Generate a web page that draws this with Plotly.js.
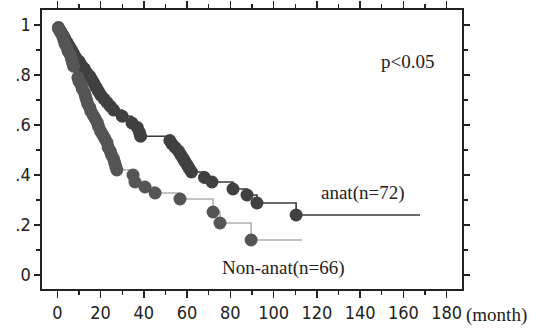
<!DOCTYPE html>
<html>
<head>
<meta charset="utf-8">
<script src="https://cdn.plot.ly/plotly-3.0.1.min.js"></script>
<style>html,body{margin:0;padding:0;background:#fff;}#chart{width:536px;height:328px;}</style>
</head>
<body>
<div id="chart"></div>
<script>
// Kaplan-Meier curves (months, cumulative survival)
const anatMonths = [0.5,1.5,2.5,3.5,4.5,5.5,6.5,7.5,8.5,10,11,12.5,13.5,15,16,17,18,19,20,21.5,23,24.5,26,30,34.5,37,38,38.5,52,53,54.5,56,57,58,59,60,61,62,68,71.5,81.2,87.7,92.3,110.4];
const anatSurv   = [0.99,0.975,0.96,0.945,0.93,0.915,0.9,0.885,0.87,0.855,0.84,0.825,0.81,0.795,0.78,0.765,0.75,0.735,0.72,0.705,0.69,0.675,0.66,0.635,0.608,0.59,0.57,0.555,0.538,0.524,0.51,0.496,0.482,0.468,0.454,0.44,0.426,0.412,0.39,0.372,0.344,0.32,0.288,0.24];
const anatEnd = 167.7;

const nonMonths = [0.5,1.5,2.5,3,3.5,4.5,5,6,6.5,7,7.5,9.5,10,11,11.5,12.5,13,13.5,14,15,15.5,16.5,17.5,18.5,19,20,21,22,23,23.5,24.5,25,26,26.5,27,27.5,35,35.9,40.5,45.2,56.7,72,75.2,89.6];
const nonSurv   = [0.985,0.97,0.955,0.94,0.925,0.91,0.895,0.88,0.865,0.85,0.835,0.79,0.775,0.76,0.745,0.73,0.715,0.7,0.685,0.67,0.655,0.64,0.625,0.61,0.595,0.575,0.56,0.545,0.53,0.51,0.495,0.48,0.465,0.45,0.435,0.42,0.4,0.372,0.352,0.328,0.304,0.252,0.208,0.14];
const nonEnd = 113.1;

const xTicks = [0,20,40,60,80,100,120,140,160,180];
const yTickVals = [0,0.2,0.4,0.6,0.8,1];
const yTickText = ['0','.2','.4','.6','.8','1'];

const stepX = (m, end) => [0].concat(m, [end]);
const stepY = (s) => [1].concat(s, [s[s.length-1]]);

const traces = [
  {x: stepX(anatMonths, anatEnd), y: stepY(anatSurv), mode:'lines', line:{shape:'hv', color:'#3a3a3a', width:1.6}, hoverinfo:'skip'},
  {x: stepX(nonMonths, nonEnd), y: stepY(nonSurv), mode:'lines', line:{shape:'hv', color:'#b0b0b0', width:1.6}, hoverinfo:'skip'},
  {x: anatMonths, y: anatSurv, mode:'markers', marker:{size:13, color:'#404040'}},
  {x: nonMonths, y: nonSurv, mode:'markers', marker:{size:13, color:'#555555'}}
];

const tickFont = {family:'"DejaVu Sans Condensed", sans-serif', size:18, color:'#222'};
const serif = {family:'"Liberation Serif", "Times New Roman", serif', size:19, color:'#222'};

const ann = (text, x, y) => ({text, xref:'paper', yref:'paper', x, y, xanchor:'center', yanchor:'middle', showarrow:false, font:serif});

const layout = {
  width:536, height:328,
  margin:{l:42, r:74, t:10, b:39},
  paper_bgcolor:'#fff', plot_bgcolor:'#fff',
  showlegend:false,
  xaxis:{range:[-7.1,187.1], tickvals:xTicks, ticks:'outside', ticklen:7, tickwidth:1.5, tickcolor:'#222',
         showline:true, linecolor:'#222', linewidth:1.6, mirror:'ticks', showgrid:false, zeroline:false,
         tickfont:tickFont,
         minor:{dtick:10, tick0:0, ticks:'outside', ticklen:4, tickwidth:1.3, tickcolor:'#222', showgrid:false}},
  yaxis:{range:[-0.056,1.06], tickvals:yTickVals, ticktext:yTickText, ticks:'outside', ticklen:6, tickwidth:1.5, tickcolor:'#222',
         showline:true, linecolor:'#222', linewidth:1.6, mirror:'ticks', showgrid:false, zeroline:false,
         tickfont:tickFont,
         minor:{dtick:0.1, tick0:0, ticks:'outside', ticklen:4, tickwidth:1.3, tickcolor:'#222', showgrid:false}},
  annotations:[
    ann('p&lt;0.05', 0.871, 0.814),
    ann('anat(n=72)', 0.764, 0.344),
    ann('Non-anat(n=66)', 0.576, 0.075),
    ann('(month)', 1.081, -0.093)
  ]
};

Plotly.newPlot('chart', traces, layout, {staticPlot:true, displayModeBar:false});
</script>
</body>
</html>
